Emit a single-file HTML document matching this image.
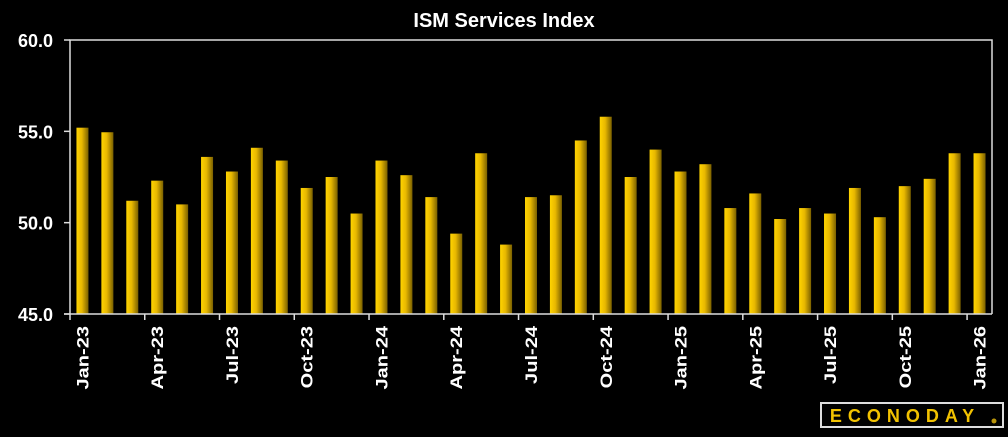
<!DOCTYPE html>
<html><head><meta charset="utf-8"><style>
body{margin:0;background:#000;width:1008px;height:432px;overflow:hidden;font-family:"Liberation Sans",sans-serif}
</style></head><body>
<svg width="1008" height="432">
<defs><linearGradient id="g" x1="0" x2="1" y1="0" y2="0">
<stop offset="0" stop-color="#ffd400"/><stop offset="0.45" stop-color="#e8b800"/><stop offset="1" stop-color="#7a6000"/></linearGradient></defs>
<text x="504" y="27" fill="#fff" font-size="20" font-weight="bold" text-anchor="middle">ISM Services Index</text>
<g id="bars"></g><g id="axes"></g>
<g>
<rect x="821" y="403" width="182" height="24" fill="none" stroke="#ddd" stroke-width="2"/>
<text x="905" y="422" fill="#f2c200" font-size="18" font-weight="bold" text-anchor="middle" letter-spacing="6">ECONODAY</text>
<circle cx="994" cy="421" r="2.5" fill="#b8940a"/>
</g>
</svg>
<script>
const categories=["Jan-23","Feb-23","Mar-23","Apr-23","May-23","Jun-23","Jul-23","Aug-23","Sep-23","Oct-23","Nov-23","Dec-23","Jan-24","Feb-24","Mar-24","Apr-24","May-24","Jun-24","Jul-24","Aug-24","Sep-24","Oct-24","Nov-24","Dec-24","Jan-25","Feb-25","Mar-25","Apr-25","May-25","Jun-25","Jul-25","Aug-25","Sep-25","Oct-25","Nov-25","Dec-25","Jan-26"];
const values=[55.2,54.95,51.2,52.3,51.0,53.6,52.8,54.1,53.4,51.9,52.5,50.5,53.4,52.6,51.4,49.4,53.8,48.8,51.4,51.5,54.5,55.8,52.5,54.0,52.8,53.2,50.8,51.6,50.2,50.8,50.5,51.9,50.3,52.0,52.4,53.8,53.8];
const yTicks=[45,50,55,60];
const yLabels=["45.0","50.0","55.0","60.0"];
const ns="http://www.w3.org/2000/svg";
const x0=70,x1=992,yTop=40,yBot=314,vMin=45,vMax=60;
const bw=(x1-x0)/categories.length;
const y=v=>yBot-(v-vMin)/(vMax-vMin)*(yBot-yTop);
function mk(t,a,p){const e=document.createElementNS(ns,t);for(const k in a)e.setAttribute(k,a[k]);p.appendChild(e);return e;}
const B=document.getElementById('bars'),A=document.getElementById('axes');
values.forEach((v,i)=>{const r=mk('rect',{x:x0+i*bw+bw/2-6,y:y(v),width:12,height:yBot-y(v),fill:'url(#g)'},B);

});
let l=mk('path',{d:`M${x0} ${yBot}V${yTop}H${x1}V${yBot}`,fill:'none',stroke:'#ddd','stroke-width':1.5},A);

l=mk('line',{x1:x0-6,x2:x1,y1:yBot,y2:yBot,stroke:'#ddd','stroke-width':1.5},A);

yTicks.forEach((t,i)=>{mk('line',{x1:x0-6,x2:x0,y1:y(t),y2:y(t),stroke:'#ddd','stroke-width':1.5},A);
const tx=mk('text',{x:x0-17,y:y(t)+7,fill:'#fff','font-size':18,'font-weight':'bold','text-anchor':'end'},A);tx.textContent=yLabels[i];
});
categories.forEach((c,i)=>{if(i%3)return;const xl=x0+i*bw,cx=xl+bw/2;
mk('line',{x1:xl,x2:xl,y1:yBot,y2:yBot+6,stroke:'#ddd','stroke-width':1.5},A);
const tx=mk('text',{x:0,y:0,fill:'#fff','font-size':17,'font-weight':'bold','text-anchor':'end',transform:`translate(${cx+6},${yBot+12}) rotate(-90) scale(1.18,1)`},A);tx.textContent=c;
});
</script>
</body></html>
